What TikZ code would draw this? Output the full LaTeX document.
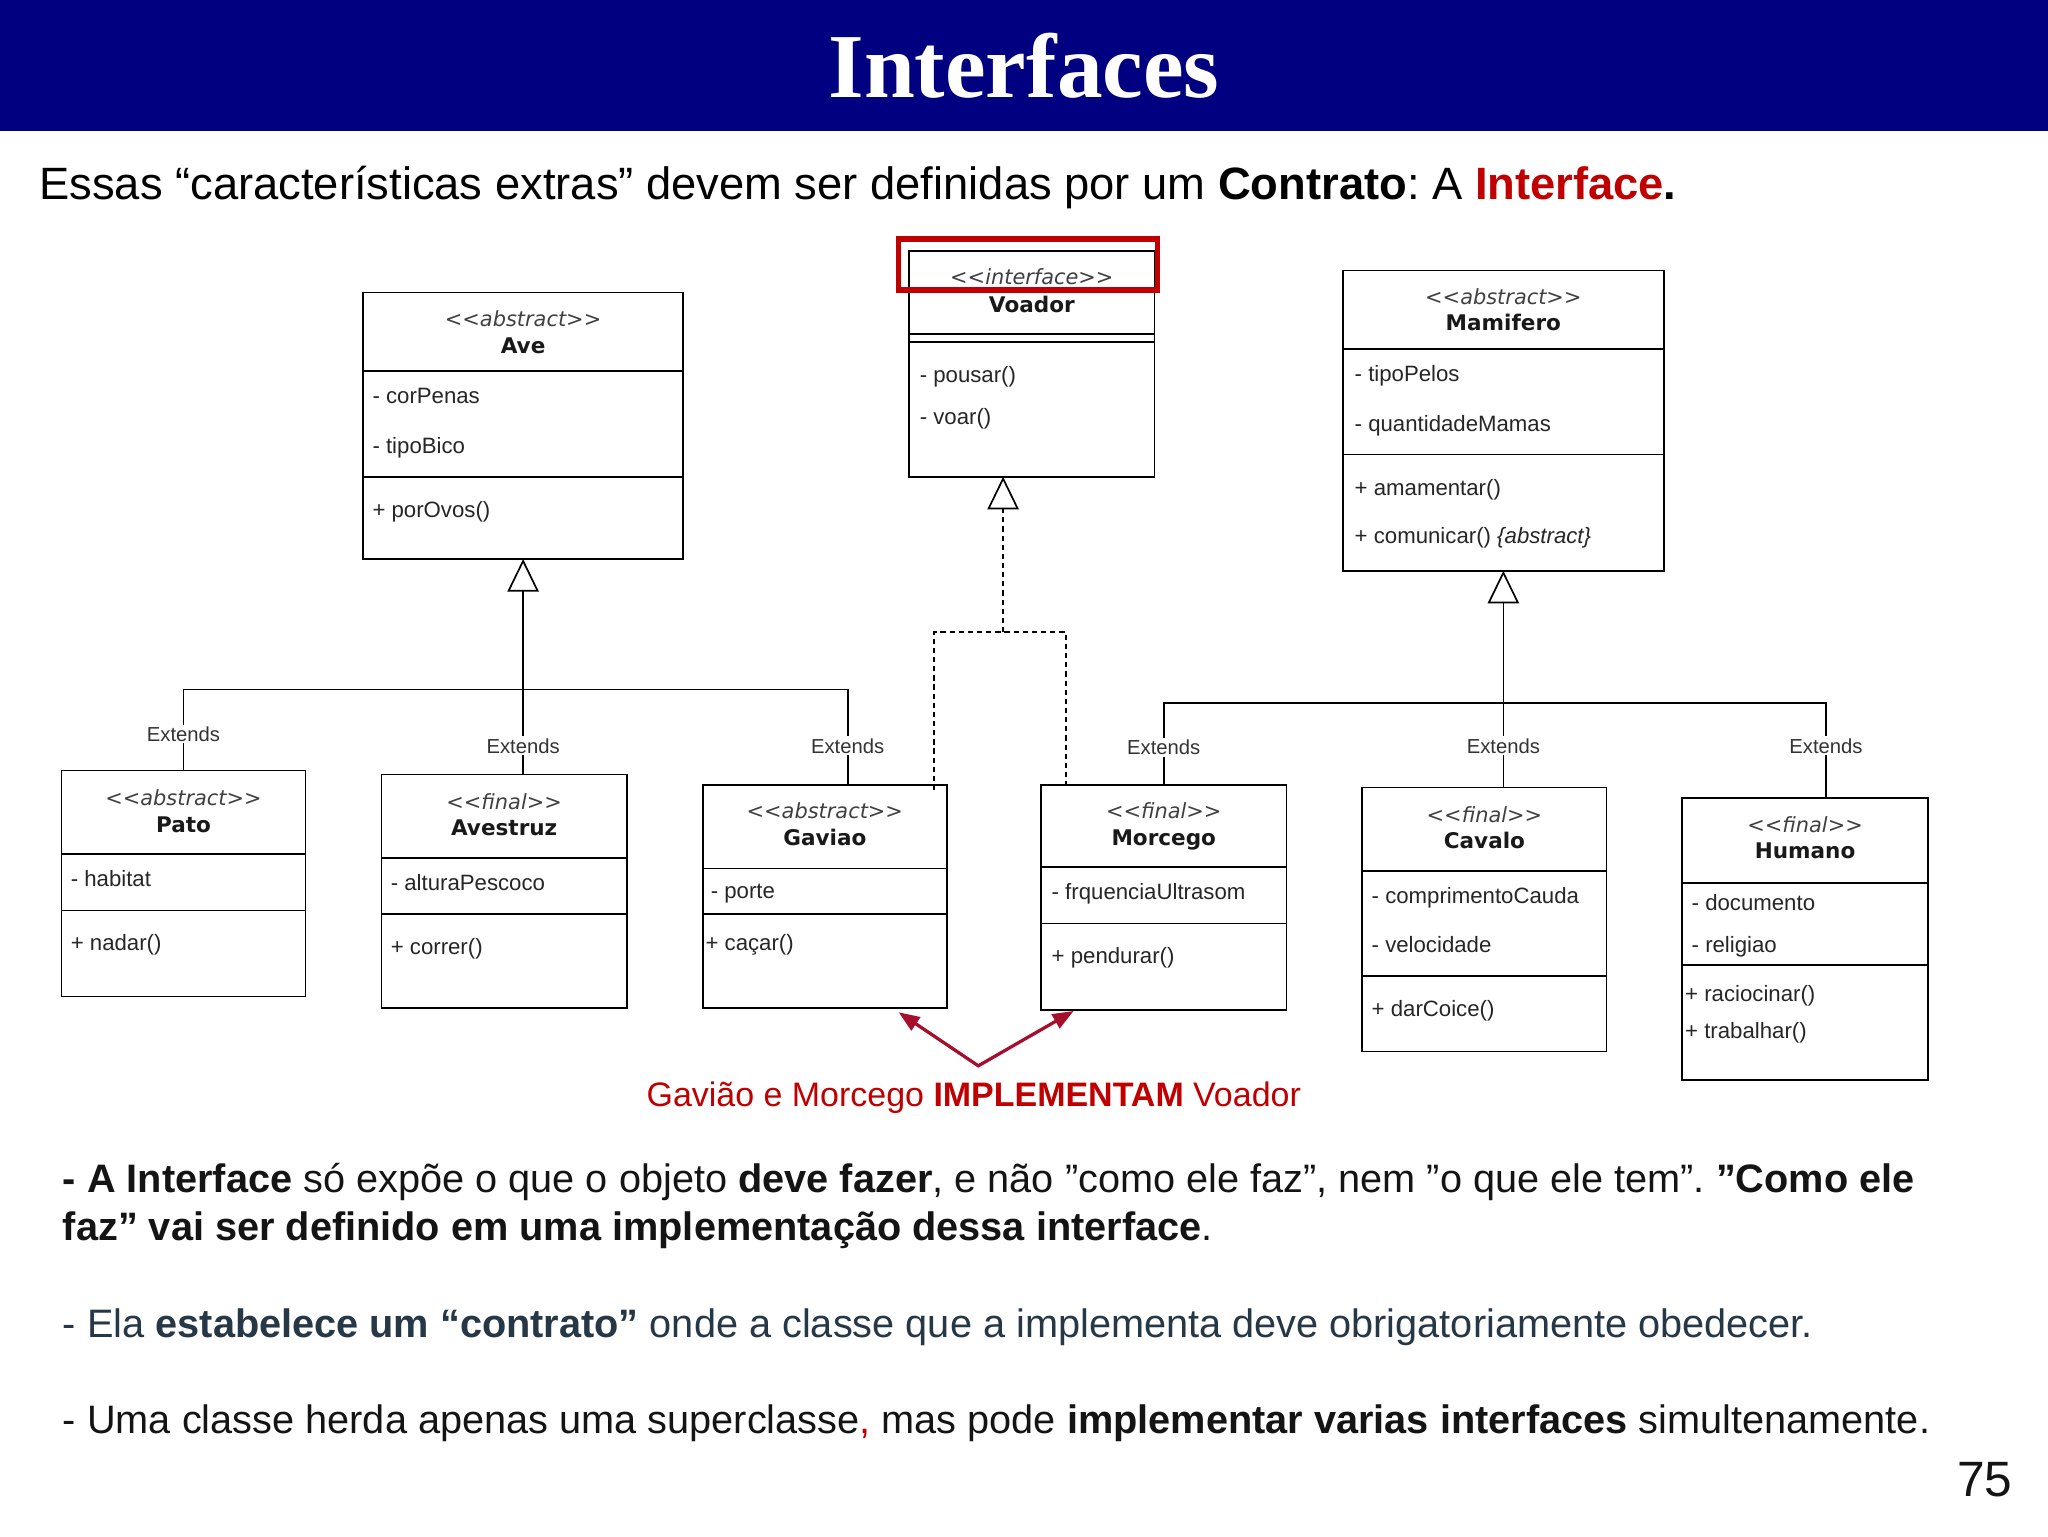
\documentclass[tikz,border=0pt]{standalone}
\usepackage{fontspec}
\setmainfont{Liberation Sans}
\newfontfamily\titlefont{Liberation Serif}
\newfontfamily\umlfont{DejaVu Sans}
\usetikzlibrary{arrows.meta}
\frenchspacing
\definecolor{navybar}{RGB}{0,0,128}
\definecolor{hlred}{RGB}{192,0,0}
\definecolor{arrred}{RGB}{165,15,45}
\definecolor{slate}{RGB}{38,55,70}
\definecolor{parablack}{RGB}{20,20,20}
\tikzset{
  cls/.style={draw=black, line width=1.3pt, fill=white, anchor=north west, inner sep=0pt, outer sep=0pt},
  divline/.style={draw=black, line width=1.3pt},
  stereo/.style={anchor=base, inner sep=0pt, font=\umlfont\itshape\fontsize{16}{19}\selectfont, text=black!75},
  cname/.style={anchor=base, inner sep=0pt, font=\umlfont\bfseries\fontsize{16.5}{19}\selectfont, text=black!90},
  member/.style={anchor=base west, inner sep=0pt, font=\fontsize{17}{20}\selectfont, text=black!85},
  inh/.style={draw=black, line width=1.3pt},
  implline/.style={draw=black, line width=1.2pt, dash pattern=on 4pt off 3pt},
  ext/.style={fill=white, inner sep=1.5pt, font=\fontsize{15.5}{18}\selectfont, text=black!80},
  opentri/.style={-{Triangle[open, length=25pt, width=24pt, line width=1.3pt]}},
  redarr/.style={draw=arrred, line width=2.5pt, line join=miter,
     {Triangle[length=16pt, width=12pt]}-{Triangle[length=16pt, width=12pt]}},
  para/.style={anchor=base west, inner sep=0pt, font=\fontsize{30.4}{36}\selectfont},
}
\begin{document}
\begin{tikzpicture}[x=1pt, y=-1pt]
\useasboundingbox (0,0) rectangle (1568,1176);
\fill[white] (0,0) rectangle (1568,1176);
% title bar
\fill[navybar] (0,0) rectangle (1568,100);
\node[anchor=base, inner sep=0pt, text=white, font=\titlefont\bfseries\fontsize{70}{80}\selectfont] (title) at (784,75) {Interfaces};
\node[anchor=base west, inner sep=0pt, font=\fontsize{34.7}{40}\selectfont] (sub) at (30,153)
  {Essas “características extras” devem ser definidas por um \textbf{Contrato}: A \textbf{\textcolor{hlred}{Interface}.}};

% ---------- Ave ----------
\node[cls, minimum width=245pt, minimum height=204pt] (ave) at (278,224) {};
\draw[divline] (278,284) -- (523,284);
\draw[divline] (278,365) -- (523,365);
\node[stereo] (aveS) at (400.5,250) {<{}<abstract>{}>};
\node[cname] (aveN) at (400.5,270.5) {Ave};
\node[member] (aveA1) at (285,309) {- corPenas};
\node[member] (aveA2) at (285,347) {- tipoBico};
\node[member] (aveM1) at (285,396) {+ porOvos()};

% ---------- Voador ----------
\node[cls, minimum width=188pt, minimum height=173pt] (voador) at (696,192) {};
\draw[divline] (696,255.7) -- (884,255.7);
\draw[divline] (696,261.6) -- (884,261.6);
\node[stereo] (voaS) at (790,218) {<{}<interface>{}>};
\node[cname] (voaN) at (790,239) {Voador};
\node[member] (voaM1) at (704,293) {- pousar()};
\node[member] (voaM2) at (704,325) {- voar()};
\draw[draw=hlred, line width=4pt] (688,183) rectangle (886,222);

% ---------- Mamifero ----------
\node[cls, minimum width=246pt, minimum height=230pt] (mamifero) at (1028,207) {};
\draw[divline] (1028,267) -- (1274,267);
\draw[divline] (1028,348) -- (1274,348);
\node[stereo] (mamS) at (1151,233) {<{}<abstract>{}>};
\node[cname] (mamN) at (1151,253) {Mamifero};
\node[member] (mamA1) at (1037,292) {- tipoPelos};
\node[member] (mamA2) at (1037,330) {- quantidadeMamas};
\node[member] (mamM1) at (1037,379) {+ amamentar()};
\node[member] (mamM2) at (1037,416) {+ comunicar() \textit{\{abstract\}}};

% ---------- Pato ----------
\node[cls, minimum width=187pt, minimum height=173pt] (pato) at (47,590) {};
\draw[divline] (47,654) -- (234,654);
\draw[divline] (47,697) -- (234,697);
\node[stereo] (patS) at (140.5,617) {<{}<abstract>{}>};
\node[cname] (patN) at (140.5,637) {Pato};
\node[member] (patA1) at (54,679) {- habitat};
\node[member] (patM1) at (54,728) {+ nadar()};

% ---------- Avestruz ----------
\node[cls, minimum width=188pt, minimum height=179pt] (avestruz) at (292,593) {};
\draw[divline] (292,657) -- (480,657);
\draw[divline] (292,700) -- (480,700);
\node[stereo] (avsS) at (386,620) {<{}<final>{}>};
\node[cname] (avsN) at (386,640) {Avestruz};
\node[member] (avsA1) at (299,682) {- alturaPescoco};
\node[member] (avsM1) at (299,731) {+ correr()};

% ---------- Gaviao ----------
\node[cls, minimum width=187pt, minimum height=171pt] (gaviao) at (538,601) {};
\draw[divline] (538,665) -- (725,665);
\draw[divline] (538,700) -- (725,700);
\node[stereo] (gavS) at (631.5,627) {<{}<abstract>{}>};
\node[cname] (gavN) at (631.5,647) {Gaviao};
\node[member] (gavA1) at (544,688) {- porte};
\node[member] (gavM1) at (540,728) {+ caçar()};

% ---------- Morcego ----------
\node[cls, minimum width=188pt, minimum height=172pt] (morcego) at (797,601) {};
\draw[divline] (797,664) -- (985,664);
\draw[divline] (797,707) -- (985,707);
\node[stereo] (morS) at (891,627) {<{}<final>{}>};
\node[cname] (morN) at (891,647) {Morcego};
\node[member] (morA1) at (805,689) {- frquenciaUltrasom};
\node[member] (morM1) at (805,738) {+ pendurar()};

% ---------- Cavalo ----------
\node[cls, minimum width=187pt, minimum height=202pt] (cavalo) at (1043,603) {};
\draw[divline] (1043,667) -- (1230,667);
\draw[divline] (1043,747) -- (1230,747);
\node[stereo] (cavS) at (1136.5,630) {<{}<final>{}>};
\node[cname] (cavN) at (1136.5,650) {Cavalo};
\node[member] (cavA1) at (1050,692) {- comprimentoCauda};
\node[member] (cavA2) at (1050,729) {- velocidade};
\node[member] (cavM1) at (1050,778) {+ darCoice()};

% ---------- Humano ----------
\node[cls, minimum width=188pt, minimum height=216pt] (humano) at (1288,611) {};
\draw[divline] (1288,676) -- (1476,676);
\draw[divline] (1288,739) -- (1476,739);
\node[stereo] (humS) at (1382,637) {<{}<final>{}>};
\node[cname] (humN) at (1382,657) {Humano};
\node[member] (humA1) at (1295,697) {- documento};
\node[member] (humA2) at (1295,729) {- religiao};
\node[member] (humM1) at (1290,767) {+ raciocinar()};
\node[member] (humM2) at (1290,795) {+ trabalhar()};

% ---------- inheritance: Ave ----------
\coordinate (gavj) at (649,528);
\draw[inh] (pato.north) |- (gavj) -- (gavj |- gaviao.north);
\draw[inh, opentri] (avestruz.north -| ave.south) -- (ave.south);
\node[ext] (extPato) at (140.5,562) {Extends};
\node[ext] (extAvs) at (400.5,571) {Extends};
\node[ext] (extGav) at (649,571) {Extends};

% ---------- inheritance: Mamifero ----------
\coordinate (morj) at (891,538);
\coordinate (humj) at (1398,538);
\draw[inh] (morcego.north -| morj) -- (morj) -- (humj) -- (humj |- humano.north);
\draw[inh, opentri] (cavalo.north -| mamifero.south) -- (mamifero.south);
\node[ext] (extMor) at (891,572) {Extends};
\node[ext] (extCav) at (1151,571) {Extends};
\node[ext] (extHum) at (1398,571) {Extends};

% ---------- realization: Voador ----------
\coordinate (implj) at (768,484);
\coordinate (gavd) at (715,484);
\coordinate (mord) at (816,484);
\draw[implline, opentri] (implj) -- (voador.south -| implj);
\draw[implline] ([yshift=-4pt]gaviao.north -| gavd) -- (gavd) -- (mord) -- (mord |- morcego.north);

% ---------- red note ----------
\coordinate (gavtip) at (688,775);
\coordinate (vtx) at (749,816);
\coordinate (mortip) at (822,774);
\draw[redarr] (gavtip) -- (vtx) -- (mortip);
\node[anchor=base, inner sep=0pt, text=hlred, font=\fontsize{26}{30}\selectfont] (note) at (745.5,847)
  {Gavião e Morcego \textbf{IMPLEMENTAM} Voador};

% ---------- paragraphs ----------
\node[para, text=parablack] (p1a) at (48,913)
  {\textbf{- A Interface} só expõe o que o objeto \textbf{deve fazer}, e não ”como ele faz”, nem ”o que ele tem”. \textbf{”Como ele}};
\node[para, text=parablack] (p1b) at (48,950)
  {\textbf{faz” vai ser definido em uma implementação dessa interface}.};
\node[para, text=slate] (p2) at (48,1024)
  {- Ela \textbf{estabelece um “contrato”} onde a classe que a implementa deve obrigatoriamente obedecer.};
\node[para, text=parablack] (p3) at (48,1097.5)
  {- Uma classe herda apenas uma superclasse\textcolor{hlred}{,} mas pode \textbf{implementar varias interfaces} simultenamente.};
\node[anchor=base east, inner sep=0pt, text=parablack, font=\fontsize{38}{44}\selectfont] (pg) at (1541,1146) {75};
\end{tikzpicture}
\end{document}
